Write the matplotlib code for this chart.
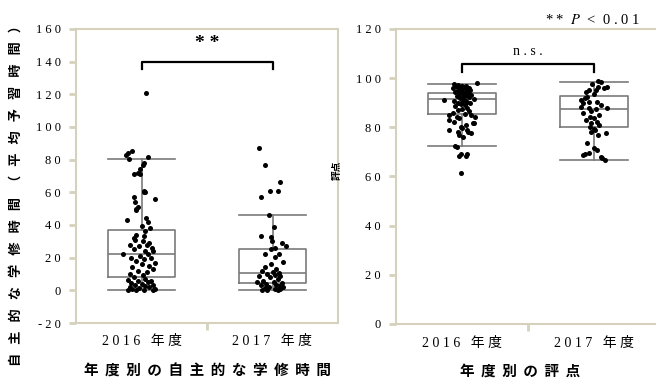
import numpy as np
import matplotlib
matplotlib.use('Agg')
import matplotlib.pyplot as plt

plt.rcParams['mathtext.fontset'] = 'stix'

groups = ['2016 年度', '2017 年度']

# 自主的な学修時間 (box stats)
hours_whislo = [0.5, 0.5]
hours_q1 = [8.2, 4.3]
hours_med = [22, 10.6]
hours_q3 = [36.9, 25.5]
hours_whishi = [80.5, 46]

hours_2016 = [121, 85, 84, 83, 80.5, 81.5, 78, 77, 74, 72, 71.5, 71, 61, 60.3, 60, 57, 55.7, 54, 51, 50, 49, 44, 43, 42,
              39.5, 38, 36.5, 34, 33, 32, 31, 30, 29, 28, 28, 27, 26, 25, 24, 24, 22.5, 22, 21, 20, 20, 19, 18, 17,
              16, 15, 14, 13, 12, 11, 10, 9.5, 8, 7, 6.5, 6, 5.5, 5, 4.5, 4, 3.5, 3, 2.5, 2, 2, 1.5, 1, 1,
              0.5, 0.5, 0.5, 0.3]
jit_h2016 = [0.035, -0.075, -0.1, -0.115, -0.095, 0.05, 0.02, 0.01, -0.015, -0.03, -0.055, -0.01, 0.02, 0.017, 0.03,
             -0.06, 0.105, -0.05, -0.03, -0.04, -0.045, 0.035, -0.11, 0.047,
             0.0, 0.065, 0.027, -0.04, 0.02, -0.06, -0.05, 0.01, 0.06, -0.09, 0.04, -0.02, 0.08, -0.06, 0.03, 0.085,
             -0.14, 0.05, -0.01, -0.08, 0.07, 0.02, -0.04, 0.1, 0.0, 0.06, -0.07, 0.09, -0.03, 0.04, -0.09, 0.01,
             -0.06, 0.03, -0.1, 0.07, -0.03, 0.05, -0.08, 0.0, 0.09, -0.05, 0.03, -0.09, 0.06, -0.02, 0.1, -0.07,
             0.02, -0.04, 0.09, -0.1]
hours_2017 = [87, 76.5, 66.5, 61, 61, 57.4, 46, 39, 33.3, 32.7, 30.2, 29.2, 27.1, 26, 25, 22.4, 22.4, 20.6, 17.3,
              16, 14.5, 13, 12, 11, 10.5, 10, 9.5, 9, 8.5, 8, 7, 6, 5, 5, 4.5, 4, 3.5, 3, 2.5, 2, 2, 1.5, 1, 1,
              0.5, 0.5, 0.3]
jit_h2017 = [-0.1, -0.06, 0.057, -0.02, 0.045, -0.09, -0.025, 0.01, -0.088, -0.01, -0.005, 0.07, 0.1, 0.02, -0.01,
             -0.06, 0.05, 0.02, 0.078, -0.01, -0.06, 0.03, -0.08, 0.0, 0.05, -0.04, 0.02, -0.1, 0.06, -0.02, 0.04,
             -0.07, 0.01, -0.12, 0.07, -0.05, 0.03, -0.09, 0.05, -0.03, 0.08, -0.06, 0.02, 0.06, -0.04, 0.04, -0.08]

# 評点
score_whislo = [72.5, 66.6]
score_q1 = [85.3, 80.1]
score_med = [91.4, 87.5]
score_q3 = [94.0, 92.8]
score_whishi = [97.5, 98.5]

score_2016 = [98, 97.5, 97.3, 97, 97, 96.8, 96.5, 96.3, 96, 96, 95.7, 95.5, 95.2, 95, 94.8, 94.5, 94.2, 94, 93.8,
              93.5, 93.2, 93, 92.8, 92.5, 92.2, 92, 91.5, 91.1, 91, 90.8, 90.5, 90.2, 90, 89.7, 89.4, 89, 88.5, 88,
              87.5, 87, 86.5, 86, 85.5, 85, 85, 84.3, 84, 83.7, 83, 82.3, 81.7, 81.6, 81, 80.3, 79.6, 79, 78.9,
              78.2, 78.2, 77.6, 76.9, 76.2, 72.5, 72.2, 69, 68.5, 69, 68.5, 61.6]
jit_s2016 = [0.116, -0.06, -0.03, 0.0, 0.03, -0.045, 0.015, -0.02, 0.05, -0.065, 0.0, 0.035, -0.03, 0.06, -0.01,
             0.02, -0.05, 0.045, 0.0, -0.025, 0.03, 0.07, -0.04, 0.01, 0.05, -0.015, 0.09, -0.136, 0.02, -0.06,
             0.035, 0.0, -0.03, 0.06, -0.01, 0.025, -0.05, 0.04, 0.0, -0.03, 0.055, -0.07, 0.02, -0.1, 0.07, 0.1,
             -0.04, -0.02, -0.1, -0.06, 0.09, 0.08, 0.03, -0.01, 0.0, -0.1, 0.04, -0.03, 0.045, 0.065, -0.02, 0.01,
             -0.053, -0.04, -0.01, -0.025, 0.04, 0.03, -0.01]
score_2017 = [98.9, 98.3, 97.6, 96.6, 96.3, 95.9, 95.2, 95.2, 94.5, 93.5, 92.5, 91.8, 91.1, 90.5, 90.5, 89.8, 89,
              88.4, 87.8, 87.8, 87.5, 86.5, 85.7, 85, 84.3, 83.7, 83, 82.3, 81.7, 81, 80.3, 79.5, 78.9, 78.2, 77.6,
              77, 73.5, 71.7, 70.8, 69.4, 69.2, 68.8, 68.1, 67.4, 66.7]
jit_s2017 = [0.03, 0.05, -0.015, 0.1, 0.03, 0.076, 0.013, -0.038, -0.06, 0.0, -0.05, -0.07, -0.1, -0.04, 0.02,
             -0.08, 0.05, -0.1, -0.04, 0.1, 0.015, -0.02, -0.08, 0.04, -0.03, 0.0, -0.06, 0.02, -0.02, 0.04, -0.03,
             0.0, 0.01, -0.02, 0.09, 0.03, -0.05, 0.0, 0.02, -0.04, -0.07, -0.08, 0.05, 0.06, 0.08]

spine_c = '#d6d1bd'
box_c = '#7a7a7a'
serif = ['Liberation Serif', 'Noto Sans CJK JP']
cjk = ['Noto Sans CJK JP', 'DejaVu Sans']


def spaced(s, sep=' '):
    return sep.join(s)


def stats(whislo, q1, med, q3, whishi):
    out = []
    for i in range(len(q1)):
        out.append({'whislo': whislo[i], 'q1': q1[i], 'med': med[i], 'q3': q3[i],
                    'whishi': whishi[i], 'fliers': []})
    return out


def panel(ax, st, pts, jits, ylim, yticks):
    pos = [0.5, 1.5]
    ax.bxp(st, positions=pos, widths=0.51, capwidths=0.51, showfliers=False,
           boxprops=dict(color=box_c, lw=1.2), medianprops=dict(color=box_c, lw=1.2),
           whiskerprops=dict(color=box_c, lw=1.2), capprops=dict(color=box_c, lw=1.2), zorder=2)
    for p, y, j in zip(pos, pts, jits):
        ax.scatter(np.array(j) + p, y, s=13, color='black', zorder=3, linewidths=0)
    ax.set_xlim(0, 2)
    ax.set_ylim(*ylim)
    ax.set_yticks(yticks)
    ax.set_yticklabels([spaced(str(t)) for t in yticks], family=serif, fontsize=9)
    ax.set_xticks([1])
    ax.set_xticklabels([''])
    ax.set_xticks(pos, minor=True)
    ax.set_xticklabels([spaced(g) for g in groups], minor=True, family=serif, fontsize=10)
    ax.tick_params(axis='x', which='major', length=5, width=2, color=spine_c, direction='out')
    ax.tick_params(axis='x', which='minor', length=0, pad=9)
    ax.tick_params(axis='y', length=5, width=2, color=spine_c, pad=6)
    for s in ax.spines.values():
        s.set_color(spine_c)
        s.set_linewidth(1.5)


fig = plt.figure(figsize=(6.56, 3.85), dpi=100)
ax1 = fig.add_axes([76 / 656, 62 / 385, 262 / 656, 294 / 385])
ax2 = fig.add_axes([396 / 656, 61 / 385, 264 / 656, 295 / 385])

panel(ax1, stats(hours_whislo, hours_q1, hours_med, hours_q3, hours_whishi),
      [hours_2016, hours_2017], [jit_h2016, jit_h2017], (-20, 160), list(range(-20, 161, 20)))
panel(ax2, stats(score_whislo, score_q1, score_med, score_q3, score_whishi),
      [score_2016, score_2017], [jit_s2016, jit_s2017], (0, 120), list(range(0, 121, 20)))

# significance brackets
ax1.plot([0.5, 0.5, 1.5, 1.5], [135.5, 140, 140, 135.5], color='black', lw=1.6, zorder=4)
ax1.text(1.0, 151, '* *', ha='center', va='center', family=serif, fontsize=14, fontweight='bold')
ax2.plot([0.5, 0.5, 1.5, 1.5], [102.5, 105.6, 105.6, 102.5], color='black', lw=1.6, zorder=4)
ax2.text(1.0, 111, spaced('n.s.'), ha='center', va='center', family=serif, fontsize=10)

fig.text(640 / 656, 1 - 20 / 385, r'* *  $P$  <  0 . 0 1', ha='right', va='center',
         family=serif, fontsize=10.5)

fig.text(16 / 656, 1 - 192 / 385, spaced('自主的な学修時間（平均予習時間）', '   '), rotation=90,
         ha='center', va='center', family=cjk, fontsize=9.5, fontweight='bold')
fig.text(337 / 656, 1 - 170 / 385, '評点', rotation=90, ha='center', va='center',
         family=cjk, fontsize=7, fontweight='bold')
fig.text(207 / 656, 1 - 371 / 385, spaced('年度別の自主的な学修時間', '  '), ha='center', va='center',
         family=cjk, fontsize=10.5, fontweight='bold')
fig.text(520 / 656, 1 - 371 / 385, spaced('年度別の評点', '  '), ha='center', va='center',
         family=cjk, fontsize=10.5, fontweight='bold')

fig.savefig('out.png', dpi=100)
